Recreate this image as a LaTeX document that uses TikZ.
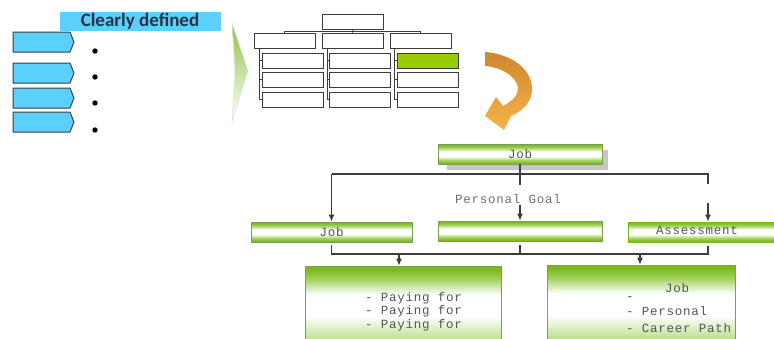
\documentclass[tikz,border=0pt]{standalone}
\usepackage{fontspec}
\usetikzlibrary{arrows.meta}
\newfontfamily\cfont{Carlito}
\newfontfamily\mfont[LetterSpace=6]{Liberation Mono}
\definecolor{cyanbox}{RGB}{90,208,250}
\definecolor{lgreen}{RGB}{122,186,32}
\definecolor{orgreen}{RGB}{153,204,0}
\definecolor{linegray}{RGB}{60,60,60}
\definecolor{txtgray}{RGB}{85,85,85}
\definecolor{goalgray}{RGB}{110,110,110}
\definecolor{oranged}{RGB}{205,135,45}
\definecolor{orangel}{RGB}{247,180,72}
\definecolor{navytxt}{RGB}{40,52,70}
\definecolor{glight}{RGB}{200,228,160}
\definecolor{gmid}{RGB}{160,208,90}
\pgfdeclareverticalshading{gshade}{100bp}{color(0bp)=(lgreen); color(27bp)=(lgreen); color(34bp)=(gmid); color(44bp)=(white); color(56bp)=(white); color(66bp)=(gmid); color(73bp)=(lgreen); color(100bp)=(lgreen)}
\pgfdeclareverticalshading{gshadeB}{100bp}{color(0bp)=(lgreen); color(25bp)=(lgreen); color(36bp)=(glight); color(47bp)=(white); color(59bp)=(white); color(68bp)=(gmid); color(73bp)=(lgreen); color(100bp)=(lgreen)}
\begin{document}
\begin{tikzpicture}[x=1pt,y=-1pt,
  orgbox/.style={draw=linegray, line width=0.8pt, minimum width=61pt, minimum height=15pt, inner sep=0pt},
  gbox/.style={draw=gray!50!lgreen, line width=0.8pt, shading=gshade, inner sep=0pt, font=\mfont\fontsize{12.5}{14}\selectfont, text=txtgray},
  bigbox/.style={gbox, shading=gshadeB},
  mtext/.style={inner sep=0pt, font=\mfont\fontsize{12.5}{14}\selectfont, text=txtgray},
  conn/.style={draw=linegray, line width=1.1pt},
  thin/.style={draw=linegray, line width=0.8pt},
  arr/.style={conn, -{Latex[length=7pt,width=6pt]}}]
\useasboundingbox (0,0) rectangle (774,338);
\clip (0,0) rectangle (774,338);

% ---- top-left: Clearly defined ----
\node[fill=cyanbox, minimum width=161pt, minimum height=19pt, inner sep=0pt] (cd) at (140,21) {};
\node[inner sep=0pt, font=\cfont\bfseries\fontsize{19}{20}\selectfont, text=navytxt] (cdt) at (140,21.5) {Clearly defined};
\foreach \y in {32,63,88,112} {
  \draw[fill=cyanbox, draw=linegray, line width=1pt]
    (13,\y) -- (70,\y) -- (74,\y+10) -- (70,\y+20) -- (13,\y+20) -- cycle;
}
\foreach \y in {51,77,103,130} \fill (95,\y) circle (2.7pt);

% ---- green chevron ----
\shade[top color=lgreen!85, bottom color=white, draw=gray!25, line width=0.5pt]
  (232,23) -- (248,71) -- (232,122) -- (235,71) -- cycle;

% ---- small org chart ----
\node[orgbox] (ot) at (353,21.5) {};
\node[orgbox] (o1) at (284.5,40.5) {};
\node[orgbox] (o2) at (352.5,40.5) {};
\node[orgbox] (o3) at (420.5,40.5) {};
\draw[thin] (ot.south) -- (o2.north);
\coordinate (h1) at (284.5,31);
\coordinate (h3) at (420.5,31);
\draw[thin] (o1.north) -- (h1) -- (h3) -- (o3.north);
\coordinate (v1) at (259,48);
\coordinate (v2) at (327,48);
\coordinate (v3) at (394,48);
\foreach \c/\xc in {1/292.5, 2/360, 3/428} {
  \foreach \r/\yc in {1/60.5, 2/79.5, 3/99.5} {
    \node[orgbox, fill=white] (c\c r\r) at (\xc,\yc) {};
  }
}
\node[orgbox, fill=orgreen] (g31) at (c3r1) {};
\foreach \c in {1,2,3} {
  \draw[thin] (v\c) -- (v\c |- c\c r3.west) -- (c\c r3.west);
  \draw[thin] (v\c |- c\c r1.west) -- (c\c r1.west);
  \draw[thin] (v\c |- c\c r2.west) -- (c\c r2.west);
}

% ---- orange curved arrow ----
\shade[top color=oranged, bottom color=orangel]
  (485,52) .. controls (512,54) and (534,70) .. (532,92)
  .. controls (530,104) and (522,111) .. (511,116)
  -- (504,130) -- (485,116) -- (496,97) -- (503,106)
  .. controls (513,101) and (519,94) .. (518,87)
  .. controls (515,75) and (500,67) .. (485,66) -- cycle;

% ---- lower chart ----
\fill[gray!45] (447,150) rectangle (608,170);
\node[gbox, minimum width=164pt, minimum height=20pt] (job) at (520,154) {Job};
\node[gbox, minimum width=161pt, minimum height=20pt] (jobL) at (331.5,232) {Job};
\node[gbox, minimum width=164pt, minimum height=20pt] (goal) at (520,231) {};
\node[gbox, draw=lgreen, minimum width=152pt, minimum height=20pt] (assess) at (704,232) {};
\node[mtext] (assesst) at (697,230) {Assessment};
\node[bigbox, minimum width=196pt, minimum height=90pt] (payL) at (403,311) {};
\node[bigbox, minimum width=188pt, minimum height=90pt] (payR) at (641,310) {};

\node[mtext, text=goalgray] (pg) at (508,199) {Personal Goal};

\coordinate (hl) at (331.5,174);
\coordinate (hr) at (708,174);
\draw[conn] (job.south) -- ++(0,21);
\draw[conn] (hl) -- (hr) -- ++(0,10);
\draw[arr] (hl) -- (jobL.north);
\draw[arr] ([yshift=16pt]goal.north) -- (goal.north);
\coordinate (ra) at (708,203);
\draw[arr] (ra) -- (ra |- assess.north);

\coordinate (bl) at (331.5,254);
\coordinate (br) at (708,254);
\draw[conn] ([yshift=-3pt]jobL.south) -- (bl) -- (br) -- (br |- 0,246);
\draw[conn] ([yshift=-4pt]goal.south) -- (goal.south |- bl);
\coordinate (al) at (399,254);
\coordinate (ar) at (640,254);
\draw[arr] (al) -- (al |- payL.north);
\draw[arr] (ar) -- (ar |- payR.north);

\node[mtext, anchor=west] (p1) at (365,298) {- Paying for};
\node[mtext, anchor=west] (p2) at (365,311) {- Paying for};
\node[mtext, anchor=west] (p3) at (365,325) {- Paying for};
\node[mtext] (r0) at (677,288) {Job};
\node[mtext, anchor=west] (r1) at (626,299) {-};
\node[mtext, anchor=west] (r2) at (626,311) {- Personal};
\node[mtext, anchor=west] (r3) at (626,328) {- Career Path};
\end{tikzpicture}
\end{document}
